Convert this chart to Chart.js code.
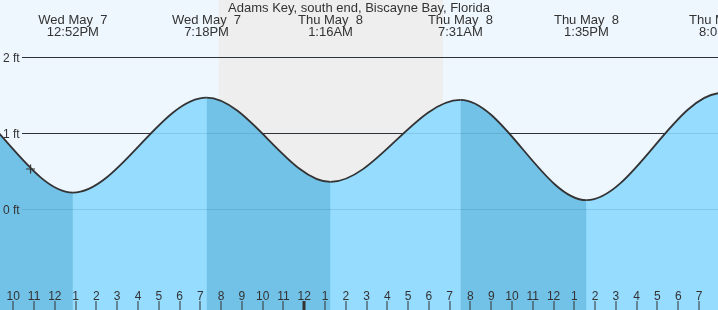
<!DOCTYPE html>
<html>
<head>
<meta charset="utf-8">
<script src="https://cdn.jsdelivr.net/npm/chart.js@4.4.1/dist/chart.umd.min.js"></script>
<style>
  html, body { margin: 0; padding: 0; background: #eef6fe; }
  #wrap { width: 718px; height: 310px; }
</style>
</head>
<body>
<div id="wrap"><canvas id="c" width="718" height="310"></canvas></div>
<script>
// ---- data (time in hours from Wed May 7 00:00) ----
const chartTitle = 'Adams Key, south end, Biscayne Bay, Florida';
// high/low tide events (first and last lie outside the visible window)
const tideTimes   = [0.3, 6.6, 12.867, 19.3, 25.267, 31.517, 37.583, 44.083, 50.2];
const tideHeights = [0.30, 1.52, 0.22, 1.47, 0.36, 1.44, 0.12, 1.53, 0.40];
const tideDays    = ['Wed May  7', 'Wed May  7', 'Wed May  7', 'Wed May  7', 'Thu May  8', 'Thu May  8', 'Thu May  8', 'Thu May  8', 'Fri May  9'];
const tideClock   = ['12:18AM', '6:36AM', '12:52PM', '7:18PM', '1:16AM', '7:31AM', '1:35PM', '8:05PM', '2:12AM'];
const nowTime = [10.83];
const nowHeight = [0.53];
const nightStart = [19.89];
const nightEnd = [30.68];
const yTickValues = [0, 1, 2];
const yTickLabels = ['0 ft', '1 ft', '2 ft'];
const hourFirst = 10;
const hourLabels = ['10','11','12','1','2','3','4','5','6','7','8','9','10','11','12','1','2','3','4','5','6','7','8','9','10','11','12','1','2','3','4','5','6','7'];
const midnightHour = [24];

const X_MIN = 9.36, X_MAX = 43.914;
const Y_MIN = -1.325, Y_MAX = 2.754;

const COL_BG = '#eef6fe';
const COL_NIGHT = '#eeeeee';
const COL_LIGHT = '#96dcff';
const COL_DARK = '#72c1e6';
const COL_TEXT = '#333333';

const tidePoints = tideTimes.map((t, i) => ({x: t, y: tideHeights[i]}));
const nowPoints = nowTime.map((t, i) => ({x: t, y: nowHeight[i]}));

const decor = {
  id: 'decor',
  beforeDatasetsDraw(chart) {
    const {ctx, chartArea: a, scales: {x, y}} = chart;
    ctx.save();
    ctx.fillStyle = COL_BG;
    ctx.fillRect(0, 0, chart.width, chart.height);
    ctx.fillStyle = COL_NIGHT;
    nightStart.forEach((s, i) => {
      const x0 = x.getPixelForValue(s), x1 = x.getPixelForValue(nightEnd[i]);
      ctx.fillRect(x0, 0, x1 - x0, chart.height);
    });
    ctx.strokeStyle = '#333333';
    ctx.lineWidth = 1;
    yTickValues.forEach(v => {
      const py = Math.round(y.getPixelForValue(v)) + 0.5;
      ctx.beginPath();
      ctx.moveTo(22, py);
      ctx.lineTo(a.right, py);
      ctx.stroke();
    });
    ctx.restore();
  },
  afterDatasetsDraw(chart) {
    const {ctx, chartArea: a, scales: {x, y}} = chart;
    ctx.save();
    // faint grid over fill
    ctx.strokeStyle = 'rgba(0,50,90,0.12)';
    ctx.lineWidth = 1;
    yTickValues.forEach(v => {
      const py = Math.round(y.getPixelForValue(v)) + 0.5;
      ctx.beginPath();
      ctx.moveTo(22, py);
      ctx.lineTo(a.right, py);
      ctx.stroke();
    });
    // y labels
    ctx.fillStyle = COL_TEXT;
    ctx.font = '12px "Liberation Sans", Arial, sans-serif';
    ctx.textAlign = 'left';
    ctx.textBaseline = 'alphabetic';
    yTickValues.forEach((v, i) => {
      const py = y.getPixelForValue(v);
      ctx.fillText(yTickLabels[i], 3, py + 4.5);
    });
    // hour labels and ticks
    ctx.textAlign = 'center';
    ctx.font = '12px "Liberation Sans", Arial, sans-serif';
    hourLabels.forEach((lab, i) => {
      const t = hourFirst + i;
      const px = x.getPixelForValue(t);
      ctx.fillText(lab, px, 300);
      if (midnightHour.includes(t)) {
        ctx.fillRect(Math.round(px) - 1.5, 301, 3, 9);
      } else {
        ctx.fillRect(Math.round(px) - 0.5, 301, 1, 9);
      }
    });
    // title + extreme labels
    ctx.font = '13px "Liberation Sans", Arial, sans-serif';
    ctx.fillText(chartTitle, chart.width / 2, 12);
    tideTimes.forEach((t, i) => {
      const px = x.getPixelForValue(t);
      ctx.fillText(tideDays[i], px, 24);
      ctx.fillText(tideClock[i], px, 36);
    });
    ctx.restore();
  }
};

new Chart(document.getElementById('c'), {
  type: 'line',
  data: {
    datasets: [
      {
        // light (rising) fill underlay
        data: tidePoints,
        borderWidth: 0,
        borderColor: 'rgba(0,0,0,0)',
        backgroundColor: COL_LIGHT,
        fill: 'start',
        pointRadius: 0,
        cubicInterpolationMode: 'monotone',
        order: 3
      },
      {
        // falling-tide darker fill + curve
        data: tidePoints,
        borderColor: '#333333',
        borderWidth: 1.8,
        backgroundColor: 'rgba(0,0,0,0)',
        fill: 'start',
        pointRadius: 0,
        cubicInterpolationMode: 'monotone',
        segment: {
          backgroundColor: c => (c.p0.parsed.y > c.p1.parsed.y ? COL_DARK : 'rgba(0,0,0,0)')
        },
        order: 2
      },
      {
        type: 'scatter',
        data: nowPoints,
        pointStyle: 'cross',
        pointRadius: 4.5,
        borderColor: '#333333',
        borderWidth: 1.2,
        showLine: false,
        order: 1
      }
    ]
  },
  options: {
    responsive: false,
    animation: false,
    layout: { padding: 0, autoPadding: false },
    plugins: { legend: { display: false }, tooltip: { enabled: false }, title: { display: false } },
    events: [],
    scales: {
      x: { type: 'linear', min: X_MIN, max: X_MAX, display: false },
      y: { type: 'linear', min: Y_MIN, max: Y_MAX, display: false }
    }
  },
  plugins: [decor]
});
</script>
</body>
</html>
